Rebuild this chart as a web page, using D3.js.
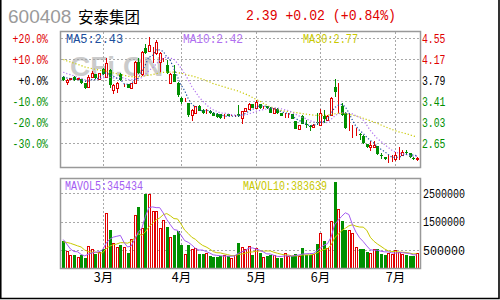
<!DOCTYPE html>
<html>
<head>
<meta charset="utf-8">
<script src="https://cdn.jsdelivr.net/npm/d3@7"></script>
<style>
  html, body { margin: 0; padding: 0; background: #fff; }
  svg { display: block; }
</style>
</head>
<body>
<svg id="chart" width="500" height="300"></svg>
<script>
// daily candles, feb -> jul
const opens = [
  3.86, 3.76, 3.82, 3.86, 3.82, 3.81, 3.74, 3.68, 3.86, 3.90,
  3.81, 4.00, 3.86, 3.98, 3.62, 3.66, 3.90, 3.70, 3.72, 3.66,
  3.74, 4.13, 3.90, 4.38, 4.32, 4.22, 4.28, 4.13, 4.16, 4.07,
  3.74, 3.90, 3.74, 3.48, 3.44, 3.38, 3.16, 3.20, 3.33, 3.26,
  3.24, 3.24, 3.21, 3.19, 3.18, 3.15, 3.18, 3.16, 3.15, 3.18,
  3.12, 3.23, 3.28, 3.36, 3.29, 3.36, 3.30, 3.32, 3.30, 3.20,
  3.28, 3.20, 3.17, 3.18, 3.18, 3.05, 2.92, 3.15, 3.00, 2.96,
  2.95, 3.04, 2.99, 3.15, 3.07, 3.17, 3.68, 3.41, 3.32, 3.21,
  2.93, 2.91, 2.85, 2.82, 2.79, 2.64, 2.58, 2.58, 2.60, 2.44,
  2.40, 2.37, 2.38, 2.37, 2.44, 2.44, 2.50, 2.47, 2.38, 2.37
];
const highs = [
  3.87, 3.81, 3.84, 3.87, 3.84, 3.82, 3.75, 3.89, 3.96, 3.91,
  3.93, 4.01, 4.19, 4.00, 3.72, 3.77, 3.93, 3.73, 3.73, 3.75,
  4.14, 4.20, 4.33, 4.45, 4.58, 4.40, 4.52, 4.30, 4.19, 4.16,
  3.92, 4.07, 3.76, 3.50, 3.48, 3.39, 3.27, 3.33, 3.35, 3.27,
  3.27, 3.25, 3.22, 3.20, 3.19, 3.18, 3.19, 3.18, 3.17, 3.35,
  3.24, 3.30, 3.38, 3.37, 3.44, 3.37, 3.32, 3.33, 3.31, 3.30,
  3.29, 3.21, 3.20, 3.21, 3.19, 3.06, 2.99, 3.16, 3.08, 2.99,
  3.00, 3.21, 3.27, 3.26, 3.16, 3.50, 3.81, 3.74, 3.38, 3.22,
  3.21, 2.99, 2.93, 2.84, 2.80, 2.65, 2.69, 2.70, 2.61, 2.47,
  2.41, 2.45, 2.45, 2.50, 2.59, 2.53, 2.54, 2.48, 2.40, 2.41
];
const lows = [
  3.78, 3.71, 3.81, 3.79, 3.81, 3.73, 3.64, 3.67, 3.85, 3.82,
  3.80, 3.89, 3.85, 3.65, 3.55, 3.56, 3.79, 3.67, 3.65, 3.65,
  3.73, 3.90, 3.88, 4.27, 4.31, 4.10, 4.25, 3.95, 4.13, 3.90,
  3.72, 3.76, 3.50, 3.36, 3.40, 3.13, 3.05, 3.19, 3.23, 3.19,
  3.18, 3.19, 3.14, 3.12, 3.10, 3.09, 3.14, 3.14, 3.13, 3.13,
  3.01, 3.22, 3.27, 3.29, 3.28, 3.28, 3.28, 3.28, 3.20, 3.19,
  3.19, 3.14, 3.12, 3.12, 3.09, 2.91, 2.90, 3.00, 2.93, 2.88,
  2.94, 2.99, 2.98, 3.03, 3.06, 3.16, 3.50, 3.20, 3.14, 2.92,
  2.87, 2.75, 2.79, 2.72, 2.65, 2.57, 2.52, 2.57, 2.45, 2.37,
  2.36, 2.30, 2.32, 2.33, 2.35, 2.43, 2.46, 2.39, 2.36, 2.34
];
const closes = [
  3.80, 3.80, 3.83, 3.80, 3.83, 3.74, 3.66, 3.86, 3.93, 3.83,
  3.92, 3.90, 4.10, 3.71, 3.71, 3.74, 3.80, 3.70, 3.66, 3.74,
  4.13, 3.92, 4.31, 4.28, 4.44, 4.22, 4.49, 4.28, 4.16, 3.92,
  3.90, 3.77, 3.53, 3.40, 3.44, 3.16, 3.26, 3.32, 3.24, 3.20,
  3.24, 3.20, 3.15, 3.13, 3.12, 3.15, 3.15, 3.16, 3.15, 3.14,
  3.23, 3.29, 3.36, 3.30, 3.40, 3.29, 3.30, 3.29, 3.21, 3.29,
  3.20, 3.15, 3.17, 3.18, 3.10, 2.92, 2.98, 3.01, 2.99, 2.95,
  2.99, 3.03, 3.20, 3.09, 3.15, 3.47, 3.59, 3.41, 3.17, 2.93,
  2.93, 2.91, 2.85, 2.81, 2.66, 2.58, 2.62, 2.63, 2.46, 2.43,
  2.37, 2.37, 2.38, 2.45, 2.44, 2.50, 2.49, 2.40, 2.37, 2.39
];
const volumes = [
  820000, 500000, 350000, 350000, 260000, 350000, 240000, 650000, 560000, 380000,
  460000, 560000, 1830000, 1230000, 760000, 620000, 700000, 620000, 420000, 910000,
  1760000, 2010000, 1290000, 2500000, 2470000, 1880000, 1880000, 1290000, 1560000, 1320000,
  970000, 1030000, 1170000, 680000, 380000, 680000, 560000, 580000, 380000, 380000,
  420000, 300000, 260000, 280000, 320000, 350000, 300000, 240000, 330000, 770000,
  620000, 560000, 650000, 350000, 580000, 420000, 260000, 300000, 330000, 330000,
  240000, 240000, 420000, 300000, 300000, 380000, 300000, 590000, 350000, 350000,
  380000, 730000, 1120000, 850000, 600000, 1540000, 2890000, 1940000, 1540000, 1210000,
  1230000, 1110000, 620000, 560000, 560000, 460000, 420000, 550000, 560000, 380000,
  350000, 420000, 380000, 520000, 439220, 370000, 330000, 320000, 290000, 417170
];

// sessions before the window, only needed to seed the moving averages
const preCloses = [
  4.52, 4.48, 4.45, 4.40, 4.42, 4.38, 4.35, 4.33, 4.30, 4.32,
  4.28, 4.27, 4.22, 4.20, 4.18, 4.15, 4.16, 4.12, 4.10, 4.07,
  4.05, 4.02, 4.00, 4.03, 4.00, 3.92, 3.88, 3.86, 3.84
];
const preVolumes = [700000, 650000, 780000, 720000, 750000, 1300000, 1200000, 800000, 300000];

const monthStarts = [11, 33, 54, 72, 93];
const monthLabels = ["3月", "4月", "5月", "6月", "7月"];

const basePrice = 3.79;
const pctTicks = [20, 10, 0, -10, -20, -30];
const volTicks = [2500000, 1500000, 500000];

const RED = "#e00000";
const GREEN = "#008f00";
const GRID = "#a8a8a8";

const svg = d3.select("#chart");
const width = 500;
const height = 300;
const frame = { left: 60.5, right: 420.5, pTop: 31.5, pBottom: 167.5, vTop: 178.5, vBottom: 268.5 };

const n = closes.length;
const x = d3.scaleBand().domain(d3.range(n)).range([61.5, 418.5]);
const cx = (i) => x(i) + x.bandwidth() / 2;

const tickPrice = (p) => +(basePrice * (1 + p / 100)).toFixed(2);
const y = d3.scaleLinear().domain([tickPrice(-30), tickPrice(20)]).range([143.5, 38.5]);
const yv = d3.scaleLinear().domain([500000, 2500000]).range([250.5, 193.5]);

const pctColor = (p) => (p > 0 ? RED : p < 0 ? GREEN : "#000");

function movingAvg(series, pre, len) {
  const all = pre.concat(series);
  const off = pre.length;
  return series.map((_, i) => d3.mean(all.slice(off + i - len + 1, off + i + 1)));
}

// page title
svg.append("text").attr("x", 8).attr("y", 23)
  .attr("font-family", "Liberation Sans, Arial, sans-serif").attr("font-size", 19)
  .attr("fill", "#9a9a9a").text("600408");
svg.append("text").attr("x", 78).attr("y", 23)
  .attr("font-family", "Noto Sans CJK SC, sans-serif").attr("font-size", 15.5)
  .attr("fill", "#000").text("安泰集团");
const last = closes[n - 1], prev = closes[n - 2];
const chg = last - prev;
svg.append("text").attr("x", 246).attr("y", 20)
  .attr("font-family", "Liberation Mono, monospace").attr("font-size", 15)
  .attr("textLength", 150).attr("lengthAdjust", "spacingAndGlyphs")
  .attr("fill", RED)
  .text(`${last.toFixed(2)} +${chg.toFixed(2)} (+${(chg / prev * 100).toFixed(2)}%)`);

// watermark
svg.append("text").attr("x", 70).attr("y", 75.5)
  .attr("font-family", "Liberation Sans, Arial, sans-serif").attr("font-weight", "bold")
  .attr("font-size", 28).attr("fill", "#cbcbcb").text("CFi.CN");

// grid
const grid = svg.append("g").attr("stroke", GRID).attr("stroke-dasharray", "2,2")
  .attr("shape-rendering", "crispEdges");
pctTicks.forEach((p) => {
  grid.append("line").attr("x1", frame.left).attr("x2", frame.right)
    .attr("y1", y(tickPrice(p))).attr("y2", y(tickPrice(p)));
});
volTicks.forEach((v) => {
  grid.append("line").attr("x1", frame.left).attr("x2", frame.right)
    .attr("y1", yv(v)).attr("y2", yv(v));
});
monthStarts.forEach((i) => {
  const gx = Math.round(cx(i)) + 0.5;
  grid.append("line").attr("x1", gx).attr("x2", gx).attr("y1", frame.pTop).attr("y2", frame.pBottom);
  grid.append("line").attr("x1", gx).attr("x2", gx).attr("y1", frame.vTop).attr("y2", frame.vBottom);
});

// candles
const candles = svg.append("g").attr("shape-rendering", "crispEdges");
closes.forEach((c, i) => {
  const o = opens[i];
  const up = c >= o;
  const col = up ? RED : GREEN;
  const mx = Math.round(cx(i));
  candles.append("line").attr("x1", mx + 0.5).attr("x2", mx + 0.5)
    .attr("y1", y(highs[i])).attr("y2", y(lows[i])).attr("stroke", col);
  const top = Math.round(y(Math.max(o, c)));
  const bot = Math.round(y(Math.min(o, c)));
  if (up) {
    candles.append("rect").attr("x", mx - 0.5).attr("y", top + 0.5)
      .attr("width", 2).attr("height", Math.max(0, bot - top))
      .attr("fill", "#fff").attr("stroke", col);
  } else {
    candles.append("rect").attr("x", mx - 1).attr("y", top)
      .attr("width", 3).attr("height", Math.max(1, bot - top)).attr("fill", col);
  }
});

// price moving averages
const ma5 = movingAvg(closes, preCloses, 5);
const ma10 = movingAvg(closes, preCloses, 10);
const ma30 = movingAvg(closes, preCloses, 30);
const priceLine = d3.line().x((d, i) => cx(i)).y((d) => y(d));
[[ma30, "#c8c800"], [ma10, "#b070f0"], [ma5, "#1d4f9e"]].forEach(([s, col]) => {
  svg.append("path").attr("d", priceLine(s)).attr("fill", "none")
    .attr("stroke", col).attr("stroke-width", 1.2).attr("stroke-dasharray", "1.2,2");
});

// volume bars
const vbars = svg.append("g").attr("shape-rendering", "crispEdges");
volumes.forEach((v, i) => {
  const up = closes[i] >= opens[i];
  const mx = Math.round(cx(i));
  const top = Math.round(yv(v));
  if (up) {
    vbars.append("rect").attr("x", mx - 0.5).attr("y", top + 0.5)
      .attr("width", 2).attr("height", frame.vBottom - top - 0.5)
      .attr("fill", "#fff").attr("stroke", RED);
  } else {
    vbars.append("rect").attr("x", mx - 1).attr("y", top)
      .attr("width", 3).attr("height", frame.vBottom - top).attr("fill", GREEN);
  }
});

const mavol5 = movingAvg(volumes, preVolumes, 5);
const mavol10 = movingAvg(volumes, preVolumes, 10);
const volLine = d3.line().x((d, i) => cx(i)).y((d) => yv(d));
[[mavol10, "#c8c800"], [mavol5, "#a45cf2"]].forEach(([s, col]) => {
  svg.append("path").attr("d", volLine(s)).attr("fill", "none")
    .attr("stroke", col).attr("stroke-width", 1);
});

// panel frames
[[frame.pTop, frame.pBottom], [frame.vTop, frame.vBottom]].forEach(([t, b]) => {
  svg.append("rect").attr("x", frame.left).attr("y", t)
    .attr("width", frame.right - frame.left).attr("height", b - t)
    .attr("fill", "none").attr("stroke", "#999").attr("stroke-width", 1.5);
});

// axis labels
const labelFont = "Liberation Mono, DejaVu Sans Mono, monospace";
pctTicks.forEach((p) => {
  const ty = y(tickPrice(p)) + 4;
  const txt = (p >= 0 ? "+" : "") + p.toFixed(1) + "%";
  svg.append("text").attr("x", 48).attr("y", ty).attr("text-anchor", "end")
    .attr("font-family", labelFont).attr("font-size", 12)
    .attr("textLength", txt.length * 5.9).attr("lengthAdjust", "spacingAndGlyphs")
    .attr("fill", pctColor(p)).text(txt);
  svg.append("text").attr("x", 422).attr("y", ty)
    .attr("font-family", labelFont).attr("font-size", 12)
    .attr("textLength", 23.5).attr("lengthAdjust", "spacingAndGlyphs")
    .attr("fill", pctColor(p)).text(tickPrice(p).toFixed(2));
});
volTicks.forEach((v) => {
  svg.append("text").attr("x", 423).attr("y", yv(v) + 4)
    .attr("font-family", labelFont).attr("font-size", 12)
    .attr("textLength", 42).attr("lengthAdjust", "spacingAndGlyphs")
    .attr("fill", "#000").text(v);
});
monthStarts.forEach((i, k) => {
  svg.append("text").attr("x", Math.round(cx(i)) + 0.5).attr("y", 282)
    .attr("text-anchor", "middle")
    .attr("font-family", "Noto Sans CJK SC, sans-serif").attr("font-size", 12.5)
    .attr("fill", "#000").text(monthLabels[k]);
});

// legends
const legend = (tx, ty, txt, col, len) => {
  svg.append("text").attr("x", tx).attr("y", ty)
    .attr("font-family", labelFont).attr("font-size", 12)
    .attr("textLength", len).attr("lengthAdjust", "spacingAndGlyphs")
    .attr("fill", col).text(txt);
};
legend(66, 43, `MA5:${ma5[n - 1].toFixed(2)}`, "#1d4f9e", 57);
legend(183, 43, `MA10:${ma10[n - 1].toFixed(2)}`, "#b070f0", 60);
legend(303, 43, `MA30:${ma30[n - 1].toFixed(2)}`, "#c8c800", 55);
legend(65, 190, `MAVOL5:${Math.round(mavol5[n - 1])}`, "#a45cf2", 78);
legend(243, 190, `MAVOL10:${Math.round(mavol10[n - 1])}`, "#c8c800", 84);

// outer border (left, right, bottom)
svg.append("path").attr("d", `M0.75,0 V${height - 1.5} H${width - 1} V0`)
  .attr("fill", "none").attr("stroke", "#000").attr("stroke-width", 1.6);
</script>
</body>
</html>
